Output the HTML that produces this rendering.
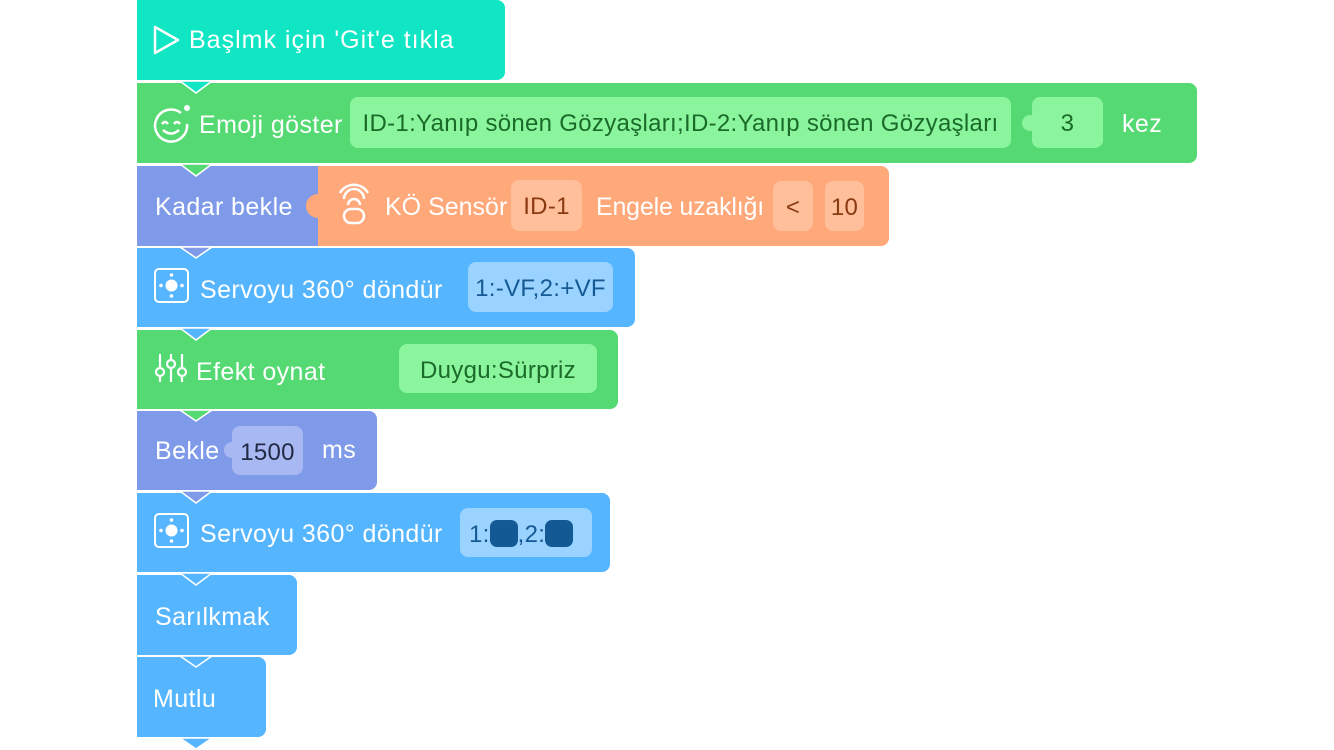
<!DOCTYPE html>
<html><head><meta charset="utf-8"><style>
body{margin:0;width:1334px;height:750px;background:#fff;position:relative;overflow:hidden;font-family:"Liberation Sans",sans-serif;}
.b{position:absolute;left:137px;border-radius:0 8px 8px 0;}
.t{position:absolute;color:#fff;font-size:25px;letter-spacing:0.4px;line-height:28px;white-space:nowrap;}
.f{position:absolute;border-radius:8px;font-size:24px;letter-spacing:0.3px;line-height:53px;text-align:center;white-space:nowrap;}
svg{position:absolute;left:0;top:0;}
</style></head><body>
<div class="b" style="top:0;width:368px;height:80px;background:#10e6c4;border-radius:0 8px 8px 0"></div>
<div class="b" style="top:83px;width:1060px;height:80px;background:#55d972"></div>
<div class="b" style="top:166px;width:181px;height:80px;background:#7f9ae8;border-radius:0"></div>
<div class="b" style="top:166px;left:318px;width:571px;height:80px;background:#ffa87a"></div>
<div class="b" style="top:248px;width:498px;height:79px;background:#55b5ff"></div>
<div class="b" style="top:330px;width:481px;height:79px;background:#55d972"></div>
<div class="b" style="top:411px;width:240px;height:79px;background:#7f9ae8"></div>
<div class="b" style="top:493px;width:473px;height:79px;background:#55b5ff"></div>
<div class="b" style="top:575px;width:160px;height:80px;background:#55b5ff"></div>
<div class="b" style="top:657px;width:129px;height:80px;background:#55b5ff"></div>

<svg width="1334" height="750">
<g stroke="#fff" stroke-width="1.5">
<polygon points="180,81 196,93 212,81" fill="#10e6c4"/>
<polygon points="180,164 196,176 212,164" fill="#55d972"/>
<polygon points="180,247 196,258 212,247" fill="#7f9ae8"/>
<polygon points="180,328 196,340 212,328" fill="#55b5ff"/>
<polygon points="180,410 196,421 212,410" fill="#55d972"/>
<polygon points="180,491 196,503 212,491" fill="#7f9ae8"/>
<polygon points="180,573 196,585 212,573" fill="#55b5ff"/>
<polygon points="180,656 196,667 212,656" fill="#55b5ff"/>
<polygon points="180,738 196,749 212,738" fill="#55b5ff"/>
</g>
<circle cx="318" cy="206" r="12" fill="#ffa87a"/>
<polygon points="155,27 178,40 155,53" fill="none" stroke="#fff" stroke-width="2.5" stroke-linejoin="round"/>
<g fill="none" stroke="#fff" stroke-width="2.5">
<path d="M181,113 A16,16 0 1 0 187,124" />
<path d="M162,124 q3,-4 6,0 M174,124 q3,-4 6,0"/>
<path d="M163,130 q8,7 16,0"/>
</g>
<circle cx="187" cy="108" r="3" fill="#fff"/>
<g fill="none" stroke="#fff" stroke-width="2.5">
<path d="M340,193 a16,16 0 0 1 28,0 M344,199 a10,10 0 0 1 20,0 M348,205 a5,5 0 0 1 12,0"/>
<rect x="344" y="209" width="20" height="14" rx="7"/>
</g>
<g fill="none" stroke="#fff" stroke-width="2">
<rect x="155" y="269" width="33" height="33" rx="4"/>
<rect x="155" y="514" width="33" height="33" rx="4"/>
</g>
<g fill="#fff">
<circle cx="171.5" cy="285.5" r="6"/><circle cx="171.5" cy="275" r="1.8"/><circle cx="171.5" cy="296" r="1.8"/><circle cx="161" cy="285.5" r="1.8"/><circle cx="182" cy="285.5" r="1.8"/>
<circle cx="171.5" cy="530.5" r="6"/><circle cx="171.5" cy="520" r="1.8"/><circle cx="171.5" cy="541" r="1.8"/><circle cx="161" cy="530.5" r="1.8"/><circle cx="182" cy="530.5" r="1.8"/>
</g>
<g fill="none" stroke="#fff" stroke-width="2.2">
<path d="M160,354 v28 M171,354 v28 M182,354 v28"/>
</g>
<g fill="#55d972" stroke="#fff" stroke-width="2.2">
<circle cx="160" cy="372" r="4"/><circle cx="171" cy="364" r="4"/><circle cx="182" cy="372" r="4"/>
</g>
<circle cx="1030" cy="123" r="8" fill="#8bf59d"/>
<circle cx="232" cy="450" r="8" fill="#a8b8f2"/>
</svg>

<div class="t" style="left:189px;top:26px;letter-spacing:1px">Başlmk için 'Git'e tıkla</div>
<div class="t" style="left:199px;top:111px">Emoji göster</div>
<div class="f" style="left:350px;top:97px;width:661px;height:51px;background:#8bf59d;color:#1a6b2a">ID-1:Yanıp sönen Gözyaşları;ID-2:Yanıp sönen Gözyaşları</div>
<div class="f" style="left:1032px;top:97px;width:71px;height:51px;background:#8bf59d;color:#1a6b2a">3</div>
<div class="t" style="left:1122px;top:110px">kez</div>

<div class="t" style="left:155px;top:193px">Kadar bekle</div>
<div class="t" style="left:385px;top:193px;letter-spacing:0">KÖ Sensör</div>
<div class="f" style="left:511px;top:180px;width:71px;height:51px;background:#ffbf9a;color:#8a3a10">ID-1</div>
<div class="t" style="left:596px;top:193px;letter-spacing:-0.2px">Engele uzaklığı</div>
<div class="f" style="left:773px;top:181px;width:40px;height:50px;background:#ffbf9a;color:#8a3a10">&lt;</div>
<div class="f" style="left:825px;top:181px;width:39px;height:50px;background:#ffbf9a;color:#8a3a10">10</div>

<div class="t" style="left:200px;top:276px">Servoyu 360° döndür</div>
<div class="f" style="left:468px;top:262px;width:145px;height:50px;background:#9ad3ff;color:#155a94">1:-VF,2:+VF</div>

<div class="t" style="left:196px;top:358px">Efekt oynat</div>
<div class="f" style="left:399px;top:344px;width:198px;height:49px;background:#8bf59d;color:#1a6b2a">Duygu:Sürpriz</div>

<div class="t" style="left:155px;top:437px">Bekle</div>
<div class="f" style="left:232px;top:426px;width:71px;height:49px;background:#a8b8f2;color:#222a44">1500</div>
<div class="t" style="left:322px;top:436px">ms</div>

<div class="t" style="left:200px;top:520px">Servoyu 360° döndür</div>
<div class="f" style="left:460px;top:508px;width:132px;height:49px;background:#9ad3ff;color:#155a94;text-align:left;padding-left:9px;box-sizing:border-box">1:<span style="display:inline-block;width:28px;height:27px;background:#135a94;border-radius:7px;vertical-align:middle;margin-top:-4px"></span>,2:<span style="display:inline-block;width:28px;height:27px;background:#135a94;border-radius:7px;vertical-align:middle;margin-top:-4px"></span></div>

<div class="t" style="left:155px;top:603px">Sarılkmak</div>
<div class="t" style="left:153px;top:685px">Mutlu</div>
</body></html>
